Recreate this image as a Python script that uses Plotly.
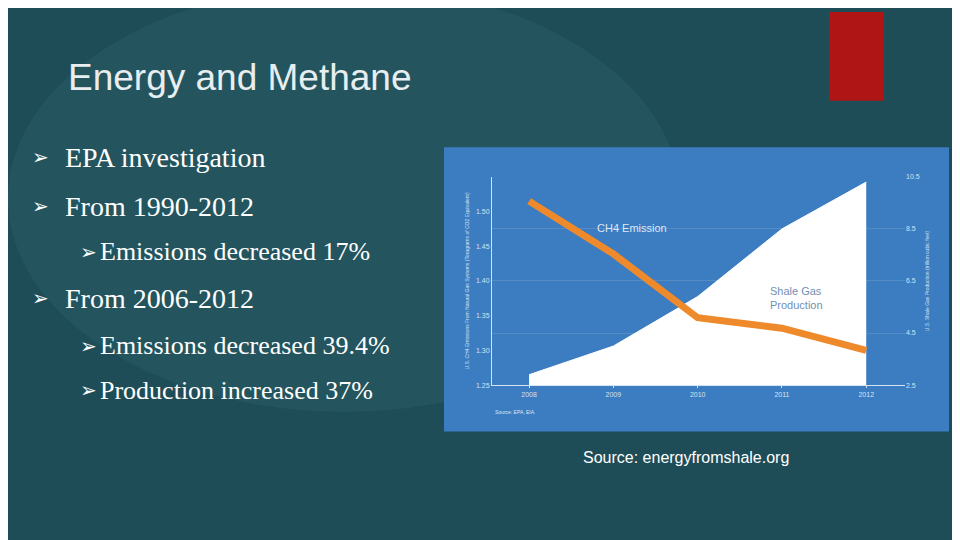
import plotly.graph_objects as go

years = [2008, 2009, 2010, 2011, 2012]
ch4_emission = [1.515, 1.439, 1.347, 1.332, 1.300]
shale_production = [2.9, 4.0, 5.9, 8.5, 10.3]

left_ticks = [1.25, 1.30, 1.35, 1.40, 1.45, 1.50]
right_ticks = [2.5, 4.5, 6.5, 8.5, 10.5]

bullets = [
    ("EPA investigation", 0, 147),
    ("From 1990-2012", 0, 197),
    ("Emissions decreased 17%", 1, 243),
    ("From 2006-2012", 0, 290),
    ("Emissions decreased 39.4%", 1, 338),
    ("Production increased 37%", 1, 383),
]

W, H = 960, 540
px_x = lambda x: x / W
px_y = lambda y: 1 - y / H

fig = go.Figure()

# shale gas area (right-side axis, drawn first)
fig.add_trace(go.Scatter(
    x=years, y=shale_production, yaxis="y", mode="lines",
    line=dict(color="white", width=1), fill="tozeroy", fillcolor="white",
    hoverinfo="skip",
))
# CH4 emission line (left-side overlay axis, drawn on top)
fig.add_trace(go.Scatter(
    x=years, y=ch4_emission, yaxis="y2", mode="lines",
    line=dict(color="#ef8a2c", width=7),
))

shapes = [
    dict(type="circle", xref="paper", yref="paper", x0=0.0, x1=0.7, y0=0.25, y1=1.05,
         fillcolor="rgba(80,150,140,0.12)", line_width=0, layer="below"),
    dict(type="rect", xref="paper", yref="paper", x0=px_x(821), x1=px_x(876),
         y0=px_y(90), y1=1, fillcolor="#b01515", line_width=0, layer="below"),
    dict(type="rect", xref="paper", yref="paper", x0=px_x(436), x1=px_x(941),
         y0=px_y(425), y1=px_y(137), fillcolor="#3c7cc0", line_width=0, layer="below"),
]

annotations = [
    dict(text="Energy and Methane", x=px_x(58), y=px_y(66), xanchor="left", yanchor="middle",
         font=dict(family="Liberation Sans", size=37, color="#e8eef0")),
    dict(text="Source: energyfromshale.org", x=px_x(573), y=px_y(451), xanchor="left",
         yanchor="middle", font=dict(family="Liberation Sans", size=16, color="white")),
    dict(text="CH4 Emission", x=px_x(587), y=px_y(219), xanchor="left", yanchor="middle",
         font=dict(family="Liberation Sans", size=11, color="#dfe9f5")),
    dict(text="Shale Gas<br>Production", x=px_x(760), y=px_y(290), xanchor="left",
         yanchor="middle", align="left",
         font=dict(family="Liberation Sans", size=11, color="#6f8fb5")),
    dict(text="Source: EPA, EIA.", x=px_x(485), y=px_y(405), xanchor="left", yanchor="middle",
         font=dict(family="Liberation Sans", size=5, color="#dfe9f5")),
]
for text, level, y in bullets:
    bx = 22 if level == 0 else 70
    size = 28 if level == 0 else 26
    annotations.append(dict(text="➢", x=px_x(bx), y=px_y(y), xanchor="left", yanchor="middle",
                            font=dict(family="DejaVu Sans", size=20, color="white")))
    annotations.append(dict(text=text, x=px_x(bx + 33 if level == 0 else bx + 20), y=px_y(y),
                            xanchor="left", yanchor="middle",
                            font=dict(family="Liberation Serif", size=size, color="white")))
for a in annotations:
    a.update(xref="paper", yref="paper", showarrow=False)

tickfont = dict(family="Liberation Sans", size=7, color="#d5e2f2")
axis_title_font = dict(family="Liberation Sans", size=5, color="#d5e2f2")
fig.update_layout(
    width=W, height=H, margin=dict(l=0, r=0, t=0, b=0),
    paper_bgcolor="#1e4d58", plot_bgcolor="rgba(0,0,0,0)", showlegend=False,
    shapes=shapes, annotations=annotations,
    xaxis=dict(domain=[px_x(484), px_x(897)], range=[2007.56, 2012.46],
               tickvals=years, tickfont=tickfont, showgrid=False, zeroline=False,
               showline=True, linecolor="#d5e2f2", ticks="outside", ticklen=2,
               tickcolor="#d5e2f2"),
    yaxis=dict(domain=[px_y(378), px_y(167)], side="right", range=[2.5, 10.5],
               tickvals=right_ticks, tickfont=tickfont, zeroline=False,
               gridcolor="rgba(255,255,255,0.12)",
               title=dict(text="U.S. Shale Gas Production (trillion cubic feet)",
                          font=axis_title_font, standoff=6)),
    yaxis2=dict(overlaying="y", side="left", range=[1.25, 1.55], tickvals=left_ticks,
                tickformat=".2f", tickfont=tickfont, showline=True, linecolor="#d5e2f2",
                showgrid=False, zeroline=False,
                title=dict(text="U.S. CH4 Emissions From Natural Gas Systems (Teragrams of CO2 Equivalent)",
                           font=axis_title_font, standoff=6)),
)

fig.write_html("out.html")
